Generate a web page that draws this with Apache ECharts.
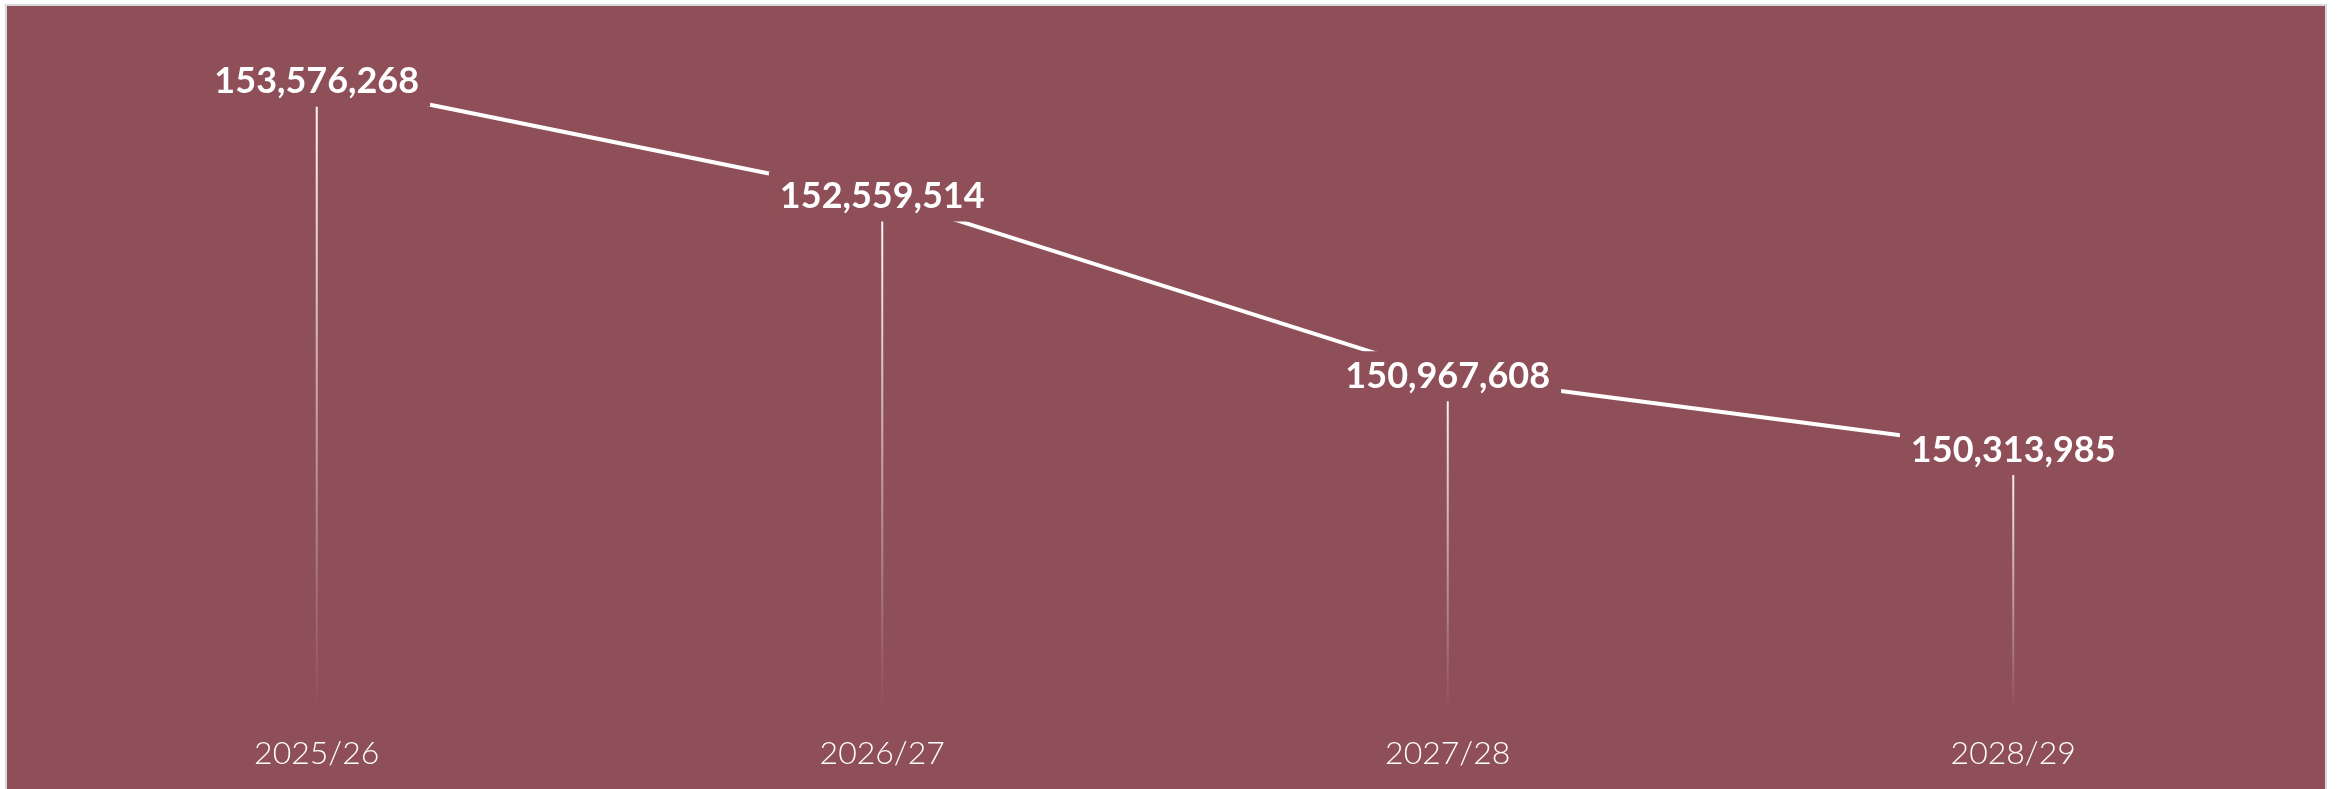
<!DOCTYPE html>
<html>
<head>
<meta charset="utf-8">
<script src="https://cdn.jsdelivr.net/npm/echarts@6/dist/echarts.min.js"></script>
<style>
  html, body { margin: 0; padding: 0; background: #ffffff; width: 2344px; height: 789px; overflow: hidden; }
  #frame { position: absolute; left: 5px; top: 4px; width: 2318px; height: 800px; border: 2px solid #d9d9d9; background: #8f4f58; }
  #chart { position: absolute; left: 0; top: 0; width: 2344px; height: 789px; }
</style>
</head>
<body>
<div id="frame"></div>
<div id="chart"></div>
<script>
const categories = ['2025/26', '2026/27', '2027/28', '2028/29'];
const values = [153576268, 152559514, 150967608, 150313985];
const yMin = 148000000;
const yMax = 154000000;

const bg = '#8f4f58';
const chart = echarts.init(document.getElementById('chart'), null, { renderer: 'canvas' });
chart.setOption({
  backgroundColor: 'transparent',
  animation: false,
  grid: { left: 34, right: 48, top: 34, bottom: 78 },
  xAxis: {
    type: 'category',
    data: categories,
    boundaryGap: true,
    axisLine: { show: false },
    axisTick: { show: false },
    splitLine: { show: false },
    axisLabel: {
      color: '#ffffff',
      fontFamily: 'Lato',
      fontWeight: 300,
      fontSize: 32,
      margin: 27
    }
  },
  yAxis: {
    type: 'value',
    min: yMin,
    max: yMax,
    show: false,
    splitLine: { show: false }
  },
  series: [
    {
      type: 'bar',
      data: values,
      barWidth: 2,
      silent: true,
      z: 1,
      itemStyle: {
        color: new echarts.graphic.LinearGradient(0, 0, 0, 1, [
          { offset: 0, color: 'rgba(255,255,255,1)' },
          { offset: 1, color: 'rgba(255,255,255,0)' }
        ])
      }
    },
    {
      type: 'line',
      data: values,
      z: 5,
      symbol: 'circle',
      symbolSize: 2,
      itemStyle: { color: bg },
      lineStyle: { color: '#ffffff', width: 4 },
      label: {
        show: true,
        position: 'inside',
        color: '#ffffff',
        fontFamily: 'Lato',
        fontWeight: 'bold',
        fontSize: 36,
        backgroundColor: bg,
        padding: [7, 11],
        formatter: p => p.value.toLocaleString('en-US')
      }
    }
  ]
});
</script>
</body>
</html>
